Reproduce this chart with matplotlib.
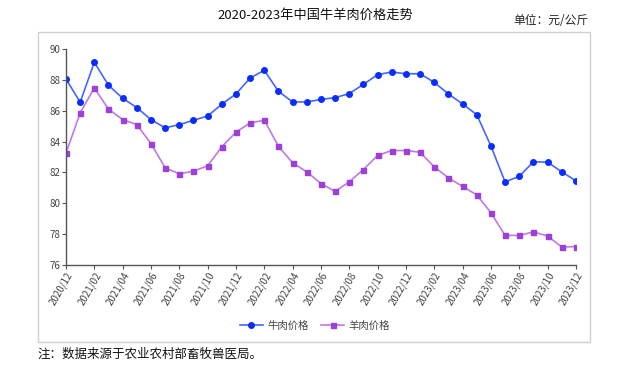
import matplotlib
matplotlib.use("Agg")
import matplotlib.pyplot as plt
from matplotlib.patches import Rectangle

plt.rcParams['font.family'] = ['Noto Sans CJK SC', 'DejaVu Sans']

# months 2020/12 .. 2023/12
months = ["2020/12",
          "2021/01", "2021/02", "2021/03", "2021/04", "2021/05", "2021/06",
          "2021/07", "2021/08", "2021/09", "2021/10", "2021/11", "2021/12",
          "2022/01", "2022/02", "2022/03", "2022/04", "2022/05", "2022/06",
          "2022/07", "2022/08", "2022/09", "2022/10", "2022/11", "2022/12",
          "2023/01", "2023/02", "2023/03", "2023/04", "2023/05", "2023/06",
          "2023/07", "2023/08", "2023/09", "2023/10", "2023/11", "2023/12"]

beef = [88.06, 86.55, 89.14, 87.65, 86.81, 86.20, 85.43, 84.89, 85.10, 85.38,
        85.66, 86.42, 87.09, 88.12, 88.62, 87.26, 86.57, 86.57, 86.73, 86.85,
        87.11, 87.71, 88.34, 88.51, 88.40, 88.40, 87.84, 87.09, 86.44, 85.75,
        83.72, 81.39, 81.74, 82.69, 82.67, 82.04, 81.46]

lamb = [83.25, 85.86, 87.48, 86.10, 85.43, 85.10, 83.87, 82.30, 81.91, 82.08,
        82.43, 83.66, 84.61, 85.21, 85.38, 83.70, 82.62, 82.04, 81.28, 80.77,
        81.39, 82.19, 83.10, 83.42, 83.42, 83.31, 82.36, 81.65, 81.09, 80.55,
        79.39, 77.92, 77.92, 78.14, 77.88, 77.17, 77.19]

yticks = [76, 78, 80, 82, 84, 86, 88, 90]

fig = plt.figure(figsize=(6.31, 3.66), dpi=100)
ax = fig.add_axes([0.1046, 0.276, 0.808, 0.590])

x = list(range(len(months)))
ax.plot(x, beef, color="#4466ff", lw=1.2, marker="o", ms=4,
        mfc="#0a2dff", mec="#0a2dff", label="牛肉价格")
ax.plot(x, lamb, color="#c078e6", lw=1.2, marker="s", ms=3.6,
        mfc="#9d3fd8", mec="#9d3fd8", label="羊肉价格")

ax.set_xlim(0, len(months) - 1)
ax.set_ylim(76, 90)
ax.set_yticks(yticks)
ax.set_xticks(x[::2])
ax.set_xticklabels(months[::2], rotation=60, ha="right", rotation_mode="anchor")

for s in ["top", "right"]:
    ax.spines[s].set_visible(False)
for s in ["left", "bottom"]:
    ax.spines[s].set_color("#555555")
    ax.spines[s].set_linewidth(1.0)
ax.tick_params(axis="both", colors="#555555", labelcolor="#444444",
               labelsize=7, length=3, width=0.8, pad=1)

ax.legend(loc="upper center", bbox_to_anchor=(0.488, -0.215), ncol=2,
          frameon=False, fontsize=7.5, handlelength=2.2, columnspacing=1.2,
          handletextpad=0.4, labelcolor="#444444")

# outer frame
fig.patches.append(Rectangle((38 / 631, 1 - 342 / 366), 552 / 631, 310 / 366,
                             transform=fig.transFigure, fill=False,
                             edgecolor="#d0d0d0", lw=1.0))

fig.text(315 / 631, 1 - 15 / 366, "2020-2023年中国牛羊肉价格走势",
         ha="center", va="center", fontsize=9.5, color="#111111")
fig.text(588 / 631, 1 - 20 / 366, "单位：元/公斤",
         ha="right", va="center", fontsize=8.5, color="#222222")
fig.text(38 / 631, 1 - 354 / 366, "注：数据来源于农业农村部畜牧兽医局。",
         ha="left", va="center", fontsize=9, color="#111111")

fig.savefig("out.png", dpi=100)
